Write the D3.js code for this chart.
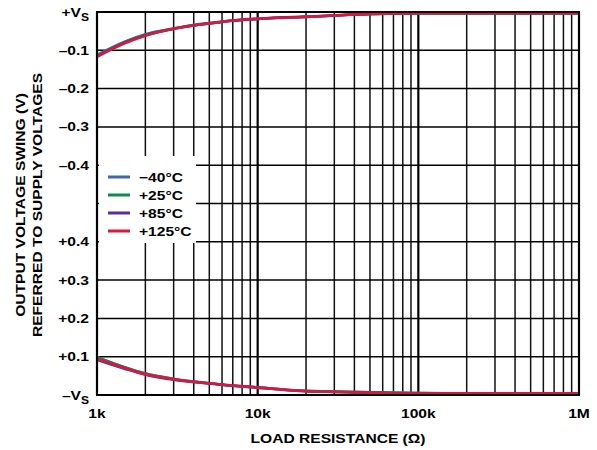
<!DOCTYPE html>
<html><head><meta charset="utf-8">
<script src="https://cdn.jsdelivr.net/npm/d3@7"></script>
<style>body{margin:0;background:#fff}svg text{font-family:"Liberation Sans",Arial,sans-serif;font-weight:bold;fill:#000}</style>
</head><body><svg id="c" width="597" height="450"></svg>
<script>
const loads = [1000,1500,2000,3000,4000,5000,7000,10000,15000,20000,30000,50000,100000,200000,500000,1000000];
const seriesNames = ["\u221240\u00B0C","+25\u00B0C","+85\u00B0C","+125\u00B0C"];
const seriesColors = ["#3f68a8","#0a8a55","#5a2e9c","#e0143c"];
// high-side swing (V from +VS)
const highM40 = [-0.112,-0.077,-0.058,-0.043,-0.034,-0.029,-0.022,-0.017,-0.014,-0.012,-0.009,-0.005,-0.0035,-0.003,-0.003,-0.003];
const high25  = [-0.114,-0.078,-0.059,-0.043,-0.034,-0.029,-0.022,-0.018,-0.014,-0.012,-0.009,-0.005,-0.0035,-0.003,-0.003,-0.003];
const high85  = [-0.116,-0.080,-0.061,-0.044,-0.035,-0.030,-0.023,-0.018,-0.014,-0.013,-0.009,-0.005,-0.0035,-0.003,-0.003,-0.003];
const high125 = [-0.117,-0.081,-0.062,-0.044,-0.035,-0.030,-0.023,-0.018,-0.015,-0.013,-0.009,-0.005,-0.0035,-0.003,-0.003,-0.003];
// low-side swing (V from -VS)
const lowM40 = [0.099,0.072,0.056,0.042,0.035,0.031,0.025,0.020,0.014,0.011,0.009,0.007,0.005,0.004,0.004,0.004];
const low25  = [0.099,0.072,0.056,0.042,0.035,0.031,0.025,0.020,0.014,0.011,0.009,0.007,0.005,0.004,0.004,0.004];
const low85  = [0.092,0.068,0.053,0.040,0.034,0.030,0.024,0.019,0.013,0.010,0.008,0.006,0.004,0.004,0.004,0.004];
const low125 = [0.094,0.070,0.054,0.041,0.034,0.030,0.024,0.019,0.013,0.010,0.008,0.006,0.004,0.004,0.004,0.004];
const highSeries = [highM40, high25, high85, high125];
const lowSeries = [lowM40, low25, low85, low125];
const xTickVals = [1000,10000,100000,1000000];
const xTickLabels = ["1k","10k","100k","1M"];
const highTicks = [0,-0.1,-0.2,-0.3,-0.4,-0.5];
const highLabels = ["+V|S","\u20130.1","\u20130.2","\u20130.3","\u20130.4",""];
const lowTicks = [0.4,0.3,0.2,0.1,0];
const lowLabels = ["+0.4","+0.3","+0.2","+0.1","\u2013V|S"];

const svg = d3.select("#c");
const L=97,R=579,T=12,B=395,M=(T+B)/2;
const SX=1.2;
const x = d3.scaleLog().domain([1000,1000000]).range([L,R]);
const yH = d3.scaleLinear().domain([0,-0.5]).range([T,M]);
const yL = d3.scaleLinear().domain([0.5,0]).range([M,B]);

function stext(parent, tx, ty, anchor, size, transformExtra){
  const gg = parent.append("g").attr("transform",`translate(${tx},${ty})${transformExtra||""} scale(${SX},1)`);
  return gg.append("text").attr("text-anchor",anchor).style("font-size",size+"px");
}

// grid
const g = svg.append("g");
const minor = [];
for (let d=1000; d<1000000; d*=10) for (let k=2;k<=9;k++) minor.push(d*k);
g.selectAll("line.mv").data(minor).join("line")
  .attr("x1",d=>x(d)).attr("x2",d=>x(d)).attr("y1",T).attr("y2",B)
  .attr("stroke","#111").attr("stroke-width",1.5);
g.selectAll("line.mj").data(xTickVals).join("line")
  .attr("x1",d=>x(d)).attr("x2",d=>x(d)).attr("y1",T).attr("y2",B)
  .attr("stroke","#000").attr("stroke-width",2.2);
const hy = highTicks.map(v=>yH(v)).concat(lowTicks.map(v=>yL(v)));
g.selectAll("line.h").data(hy).join("line")
  .attr("x1",L).attr("x2",R).attr("y1",d=>d).attr("y2",d=>d)
  .attr("stroke","#000").attr("stroke-width",1.5);

// y labels
function lab(txt, yy){
  if(!txt) return;
  const t = stext(svg, 89, yy+4.5, "end", 13);
  if (txt.includes("|")) {
    const [a,b]=txt.split("|");
    t.append("tspan").text(a);
    t.append("tspan").text(b).attr("dy",4).style("font-size","10px");
  } else t.text(txt);
}
highTicks.forEach((v,i)=>lab(highLabels[i],yH(v)));
lowTicks.forEach((v,i)=>lab(lowLabels[i],yL(v)));

// x labels
xTickVals.forEach((d,i)=>{
  stext(svg, x(d), 418, "middle", 13).text(xTickLabels[i]);
});

stext(svg, 338, 443, "middle", 13).text("LOAD RESISTANCE (\u03A9)");
stext(svg, 25, 205, "middle", 13, " rotate(-90)").text("OUTPUT VOLTAGE SWING (V)");
stext(svg, 42, 205, "middle", 13, " rotate(-90)").text("REFERRED TO SUPPLY VOLTAGES");

// curves
const lineH = d3.line().x((d,i)=>x(loads[i])).y(d=>yH(d)).curve(d3.curveMonotoneX);
const lineL = d3.line().x((d,i)=>x(loads[i])).y(d=>yL(d)).curve(d3.curveMonotoneX);
const cg = svg.append("g");
seriesNames.forEach((n,i)=>{
  cg.append("path").attr("d",lineH(highSeries[i])).attr("fill","none").attr("stroke",seriesColors[i]).attr("stroke-width",2.5);
  cg.append("path").attr("d",lineL(lowSeries[i])).attr("fill","none").attr("stroke",seriesColors[i]).attr("stroke-width",2.5);
});

// frame
svg.append("rect").attr("x",L).attr("y",T).attr("width",R-L).attr("height",B-T).attr("fill","none").attr("stroke","#000").attr("stroke-width",2);

// legend
const lg = svg.append("g");
lg.append("rect").attr("x",99).attr("y",156).attr("width",97).attr("height",87).attr("fill","#fff");
seriesNames.forEach((n,i)=>{
  const yy = 177 + i*18;
  lg.append("line").attr("x1",108).attr("x2",130).attr("y1",yy).attr("y2",yy).attr("stroke",seriesColors[i]).attr("stroke-width",3);
  stext(lg, 139, yy+5, "start", 13).text(n);
});
</script></body></html>
